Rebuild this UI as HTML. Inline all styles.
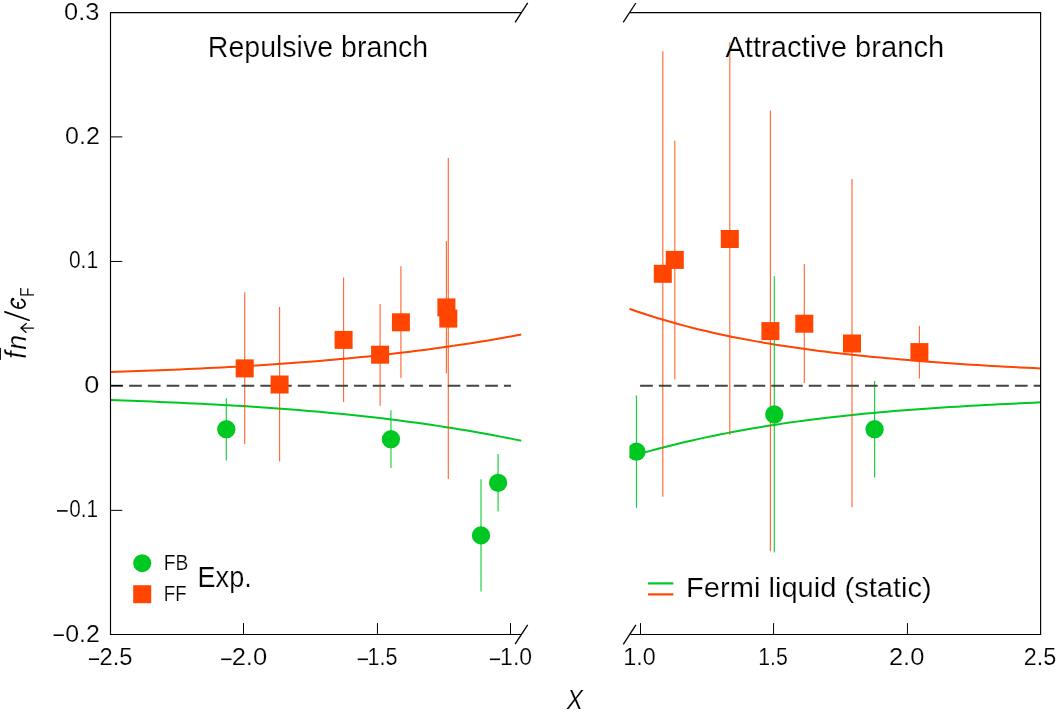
<!DOCTYPE html>
<html><head><meta charset="utf-8"><style>
html,body{margin:0;padding:0;background:#fff;}
body{width:1057px;height:716px;overflow:hidden;}
svg{display:block;}
</style></head><body>
<svg width="1057" height="716" viewBox="0 0 1057 716">
<defs>
<clipPath id="cl"><rect x="110.5" y="0" width="411" height="716"/></clipPath>
<clipPath id="cr"><rect x="629.4" y="0" width="411.2" height="716"/></clipPath>
</defs>
<g clip-path="url(#cl)">
<path d="M110.50,372.09 L117.47,371.85 L124.43,371.60 L131.40,371.35 L138.36,371.09 L145.33,370.83 L152.30,370.56 L159.26,370.28 L166.23,369.99 L173.19,369.70 L180.16,369.40 L187.13,369.09 L194.09,368.77 L201.06,368.45 L208.03,368.11 L214.99,367.76 L221.96,367.40 L228.92,367.03 L235.89,366.64 L242.86,366.25 L249.82,365.84 L256.79,365.41 L263.75,364.97 L270.72,364.52 L277.69,364.05 L284.65,363.57 L291.62,363.07 L298.58,362.56 L305.55,362.02 L312.52,361.47 L319.48,360.91 L326.45,360.32 L333.42,359.72 L340.38,359.09 L347.35,358.45 L354.31,357.78 L361.28,357.10 L368.25,356.39 L375.21,355.66 L382.18,354.91 L389.14,354.14 L396.11,353.34 L403.08,352.52 L410.04,351.67 L417.01,350.80 L423.97,349.91 L430.94,348.99 L437.91,348.04 L444.87,347.07 L451.84,346.07 L458.81,345.04 L465.77,343.99 L472.74,342.90 L479.70,341.79 L486.67,340.65 L493.64,339.47 L500.60,338.27 L507.57,337.04 L514.53,335.77 L521.50,334.47" fill="none" stroke="#ff4500" stroke-width="2"/>
<path d="M110.50,400.06 L117.47,400.30 L124.43,400.55 L131.40,400.81 L138.36,401.07 L145.33,401.34 L152.30,401.62 L159.26,401.90 L166.23,402.19 L173.19,402.50 L180.16,402.81 L187.13,403.13 L194.09,403.46 L201.06,403.80 L208.03,404.16 L214.99,404.52 L221.96,404.90 L228.92,405.30 L235.89,405.70 L242.86,406.12 L249.82,406.56 L256.79,407.01 L263.75,407.47 L270.72,407.96 L277.69,408.46 L284.65,408.98 L291.62,409.51 L298.58,410.07 L305.55,410.64 L312.52,411.23 L319.48,411.84 L326.45,412.48 L333.42,413.13 L340.38,413.81 L347.35,414.51 L354.31,415.23 L361.28,415.98 L368.25,416.75 L375.21,417.54 L382.18,418.36 L389.14,419.21 L396.11,420.08 L403.08,420.97 L410.04,421.90 L417.01,422.85 L423.97,423.83 L430.94,424.84 L437.91,425.88 L444.87,426.95 L451.84,428.05 L458.81,429.18 L465.77,430.34 L472.74,431.53 L479.70,432.76 L486.67,434.02 L493.64,435.31 L500.60,436.64 L507.57,438.00 L514.53,439.39 L521.50,440.83" fill="none" stroke="#00c823" stroke-width="2"/>
<line x1="244.7" y1="292.2" x2="244.7" y2="444.1" stroke="#ff4500" stroke-width="1.15" stroke-opacity="0.8"/>
<line x1="279.6" y1="307" x2="279.6" y2="461.5" stroke="#ff4500" stroke-width="1.15" stroke-opacity="0.8"/>
<line x1="343.6" y1="277.4" x2="343.6" y2="402.0" stroke="#ff4500" stroke-width="1.15" stroke-opacity="0.8"/>
<line x1="380.1" y1="304.1" x2="380.1" y2="405.8" stroke="#ff4500" stroke-width="1.15" stroke-opacity="0.8"/>
<line x1="400.9" y1="266.3" x2="400.9" y2="378.1" stroke="#ff4500" stroke-width="1.15" stroke-opacity="0.8"/>
<line x1="446.4" y1="241" x2="446.4" y2="373.5" stroke="#ff4500" stroke-width="1.15" stroke-opacity="0.8"/>
<line x1="448.3" y1="158" x2="448.3" y2="479" stroke="#ff4500" stroke-width="1.15" stroke-opacity="0.8"/>
<line x1="226.3" y1="398.2" x2="226.3" y2="460.5" stroke="#00c823" stroke-width="1.15" stroke-opacity="0.9"/>
<line x1="390.95" y1="410.3" x2="390.95" y2="467.9" stroke="#00c823" stroke-width="1.15" stroke-opacity="0.9"/>
<line x1="481" y1="479.2" x2="481" y2="591.6" stroke="#00c823" stroke-width="1.15" stroke-opacity="0.9"/>
<line x1="498.1" y1="454.1" x2="498.1" y2="511.6" stroke="#00c823" stroke-width="1.15" stroke-opacity="0.9"/>
<line x1="110.4" y1="385.7" x2="511" y2="385.7" stroke="#444" stroke-width="2" stroke-dasharray="12.7 6.04"/>
<rect x="235.70" y="359.40" width="18.0" height="18.0" fill="#ff4500"/>
<rect x="270.60" y="375.50" width="18.0" height="18.0" fill="#ff4500"/>
<rect x="334.60" y="330.90" width="18.0" height="18.0" fill="#ff4500"/>
<rect x="371.10" y="345.70" width="18.0" height="18.0" fill="#ff4500"/>
<rect x="391.90" y="313.30" width="18.0" height="18.0" fill="#ff4500"/>
<rect x="437.40" y="298.40" width="18.0" height="18.0" fill="#ff4500"/>
<rect x="439.30" y="309.60" width="18.0" height="18.0" fill="#ff4500"/>
<circle cx="226.3" cy="429.2" r="9.15" fill="#00c823"/>
<circle cx="390.95" cy="439.2" r="9.15" fill="#00c823"/>
<circle cx="481" cy="535.4" r="9.15" fill="#00c823"/>
<circle cx="498.1" cy="482.8" r="9.15" fill="#00c823"/>
</g>
<g clip-path="url(#cr)">
<path d="M629.30,308.75 L636.27,311.19 L643.24,313.53 L650.21,315.79 L657.18,317.97 L664.15,320.07 L671.12,322.08 L678.09,324.03 L685.06,325.89 L692.03,327.69 L698.99,329.42 L705.96,331.09 L712.93,332.69 L719.90,334.24 L726.87,335.72 L733.84,337.15 L740.81,338.52 L747.78,339.85 L754.75,341.12 L761.72,342.35 L768.69,343.53 L775.66,344.66 L782.63,345.76 L789.60,346.81 L796.57,347.83 L803.54,348.81 L810.51,349.75 L817.48,350.66 L824.45,351.54 L831.42,352.39 L838.38,353.21 L845.35,354.00 L852.32,354.77 L859.29,355.51 L866.26,356.22 L873.23,356.91 L880.20,357.58 L887.17,358.23 L894.14,358.86 L901.11,359.47 L908.08,360.06 L915.05,360.64 L922.02,361.19 L928.99,361.73 L935.96,362.25 L942.93,362.76 L949.90,363.26 L956.87,363.74 L963.84,364.20 L970.81,364.65 L977.77,365.09 L984.74,365.51 L991.71,365.92 L998.68,366.32 L1005.65,366.70 L1012.62,367.07 L1019.59,367.43 L1026.56,367.77 L1033.53,368.10 L1040.50,368.42" fill="none" stroke="#ff4500" stroke-width="2"/>
<path d="M629.30,456.75 L636.27,454.73 L643.24,452.76 L650.21,450.84 L657.18,448.98 L664.15,447.17 L671.12,445.42 L678.09,443.71 L685.06,442.06 L692.03,440.45 L698.99,438.89 L705.96,437.38 L712.93,435.92 L719.90,434.50 L726.87,433.13 L733.84,431.80 L740.81,430.51 L747.78,429.26 L754.75,428.06 L761.72,426.89 L768.69,425.76 L775.66,424.67 L782.63,423.62 L789.60,422.61 L796.57,421.63 L803.54,420.68 L810.51,419.77 L817.48,418.89 L824.45,418.04 L831.42,417.22 L838.38,416.43 L845.35,415.68 L852.32,414.94 L859.29,414.24 L866.26,413.56 L873.23,412.91 L880.20,412.28 L887.17,411.67 L894.14,411.09 L901.11,410.52 L908.08,409.98 L915.05,409.46 L922.02,408.95 L928.99,408.47 L935.96,408.00 L942.93,407.54 L949.90,407.10 L956.87,406.68 L963.84,406.26 L970.81,405.86 L977.77,405.47 L984.74,405.09 L991.71,404.72 L998.68,404.36 L1005.65,404.01 L1012.62,403.66 L1019.59,403.32 L1026.56,402.98 L1033.53,402.65 L1040.50,402.32" fill="none" stroke="#00c823" stroke-width="2"/>
<line x1="662.8" y1="51.2" x2="662.8" y2="496.7" stroke="#ff4500" stroke-width="1.15" stroke-opacity="0.8"/>
<line x1="674.8" y1="140.7" x2="674.8" y2="379.5" stroke="#ff4500" stroke-width="1.15" stroke-opacity="0.8"/>
<line x1="729.8" y1="42.3" x2="729.8" y2="435" stroke="#ff4500" stroke-width="1.15" stroke-opacity="0.8"/>
<line x1="770.4" y1="110.4" x2="770.4" y2="551.3" stroke="#ff4500" stroke-width="1.15" stroke-opacity="0.8"/>
<line x1="804.3" y1="263.9" x2="804.3" y2="383" stroke="#ff4500" stroke-width="1.15" stroke-opacity="0.8"/>
<line x1="852" y1="179" x2="852" y2="507.2" stroke="#ff4500" stroke-width="1.15" stroke-opacity="0.8"/>
<line x1="919.4" y1="326" x2="919.4" y2="378.4" stroke="#ff4500" stroke-width="1.15" stroke-opacity="0.8"/>
<line x1="636.45" y1="395.4" x2="636.45" y2="507.7" stroke="#00c823" stroke-width="1.15" stroke-opacity="0.9"/>
<line x1="774.3" y1="276.2" x2="774.3" y2="552.6" stroke="#00c823" stroke-width="1.15" stroke-opacity="0.9"/>
<line x1="874.6" y1="380.9" x2="874.6" y2="477.6" stroke="#00c823" stroke-width="1.15" stroke-opacity="0.9"/>
<line x1="640.1" y1="385.7" x2="1040.5" y2="385.7" stroke="#444" stroke-width="2" stroke-dasharray="12.7 6.04"/>
<rect x="653.80" y="264.80" width="18.0" height="18.0" fill="#ff4500"/>
<rect x="665.80" y="250.90" width="18.0" height="18.0" fill="#ff4500"/>
<rect x="720.80" y="230.00" width="18.0" height="18.0" fill="#ff4500"/>
<rect x="761.40" y="322.10" width="18.0" height="18.0" fill="#ff4500"/>
<rect x="795.30" y="314.70" width="18.0" height="18.0" fill="#ff4500"/>
<rect x="843.00" y="334.50" width="18.0" height="18.0" fill="#ff4500"/>
<rect x="910.40" y="343.10" width="18.0" height="18.0" fill="#ff4500"/>
<circle cx="636.45" cy="451.7" r="9.15" fill="#00c823"/>
<circle cx="774.3" cy="414.5" r="9.15" fill="#00c823"/>
<circle cx="874.6" cy="429.2" r="9.15" fill="#00c823"/>
</g>
<g stroke="#000" stroke-width="1.15" fill="none">
<path d="M521.4,12.6 H110.5 V634.45 H521.4"/>
<path d="M630.2,12.6 H1040.6 V634.45 H630.2"/>
</g>
<g stroke="#000" stroke-width="1.0" fill="none">
<path d="M110.5,136.9 H122.3 M110.5,261.45 H122.3 M110.5,385.7 H122.3 M110.5,510.35 H122.3"/>
<path d="M243.5,634.45 V623.1 M377.45,634.45 V623.1 M510.5,634.45 V623.1 M640.5,634.45 V623.1 M773.55,634.45 V623.1 M907.45,634.45 V623.1"/>
</g>
<line x1="515.10" y1="22.30" x2="527.70" y2="2.90" stroke="#000" stroke-width="1.3"/><line x1="515.10" y1="644.20" x2="527.70" y2="624.80" stroke="#000" stroke-width="1.3"/><line x1="623.20" y1="22.40" x2="635.80" y2="3.00" stroke="#000" stroke-width="1.3"/><line x1="623.30" y1="644.30" x2="635.90" y2="624.90" stroke="#000" stroke-width="1.3"/>
<g font-family='"Liberation Sans", sans-serif' fill="#000" opacity="0.999" stroke="#fff" stroke-width="0.2">
<text transform="matrix(1.0829 0 0 1.0060 64.02 19.50)" font-size="23.5">0.3</text>
<text transform="matrix(1.0656 0 0 1.0060 65.03 143.90)" font-size="23.5">0.2</text>
<text transform="matrix(0.8951 0 0 1.0060 68.90 268.30)" font-size="23.5">0.1</text>
<text transform="matrix(1.1556 0 0 1.0060 84.24 392.70)" font-size="23.5">0</text>
<text transform="matrix(0.8820 0 0 1.0060 69.32 517.10)" font-size="23.5">0.1</text>
<text transform="matrix(1.0590 0 0 1.0060 65.24 641.50)" font-size="23.5">0.2</text>
<text transform="matrix(1.0098 0 0 1.0090 99.44 665.45)" font-size="23.5">2.5</text>
<text transform="matrix(1.0885 0 0 1.0090 231.64 665.45)" font-size="23.5">2.0</text>
<text transform="matrix(0.9200 0 0 1.0242 367.59 665.44)" font-size="23.5">1.5</text>
<text transform="matrix(0.9800 0 0 1.0090 500.09 665.45)" font-size="23.5">1.0</text>
<text transform="matrix(0.9933 0 0 1.0090 623.36 665.45)" font-size="23.5">1.0</text>
<text transform="matrix(0.9033 0 0 1.0242 758.22 665.44)" font-size="23.5">1.5</text>
<text transform="matrix(1.0852 0 0 1.0090 888.94 665.45)" font-size="23.5">2.0</text>
<text transform="matrix(0.9967 0 0 1.0090 1023.85 665.45)" font-size="23.5">2.5</text>
<text transform="matrix(1.0569 0 0 1.0595 207.82 57.00)" font-size="27">Repulsive branch</text>
<text transform="matrix(1.0809 0 0 1.0595 725.40 56.90)" font-size="27">Attractive branch</text>
<text transform="matrix(1.0030 0 0 1.0595 197.54 586.70)" font-size="27">Exp.</text>
<text transform="matrix(0.9582 0 0 1.0982 163.82 570.00)" font-size="20">FB</text>
<text transform="matrix(0.9333 0 0 1.0982 163.87 600.80)" font-size="20">FF</text>
<text transform="matrix(1.0777 0 0 1.0432 686.08 596.60)" font-size="27">Fermi liquid (static)</text>
<text transform="matrix(0.8935 0 0 1.0541 566.75 709.10)" font-size="27" font-style="italic">X</text>
<text transform="translate(25.50 358.78) scale(1.0500 0.9778) rotate(-90)" font-size="27.5" font-style="italic">f</text>
<text transform="translate(25.50 349.68) scale(0.9763 0.9630) rotate(-90)" font-size="27.5" font-style="italic">n</text>
<text transform="translate(33.90 296.95) scale(1.0615 0.8324) rotate(-90)" font-size="19">F</text>
</g>
<g fill="#000"><rect x="57.0" y="510.10" width="10.60" height="1.6"/>
<rect x="53.6" y="634.40" width="10.20" height="1.6"/>
<rect x="88.9" y="658.40" width="10.20" height="1.6"/>
<rect x="221.2" y="658.50" width="10.30" height="1.6"/>
<rect x="357.7" y="658.50" width="10.20" height="1.6"/>
<rect x="489.9" y="658.50" width="10.20" height="1.6"/></g>
<circle cx="142.2" cy="563.2" r="9" fill="#00c823"/>
<rect x="133.2" y="585.2" width="18" height="18" fill="#ff4500"/>
<line x1="648" y1="583.4" x2="673.3" y2="583.4" stroke="#00c823" stroke-width="2.2"/>
<line x1="648" y1="594.4" x2="673.3" y2="594.4" stroke="#ff4500" stroke-width="2.2"/>
<g fill="none" stroke="#000">
<rect x="-0.5" y="347.9" width="1.4" height="12" fill="#000" stroke="none"/>
<line x1="4.9" y1="311.9" x2="29.1" y2="320.2" stroke-width="1.7" stroke-linecap="round"/>
<path d="M33.9,328.1 H21.0 M26.6,323.2 L21.0,328.1 L26.4,332.8" stroke-width="1.3"/>
<path d="M12.6,299.2 C10.9,300.6 11.0,303.6 13.2,305.6 C15.2,307.5 18.5,308.5 21.2,307.9 C24.0,307.2 25.3,305.0 24.9,303.0 C24.5,301.2 23.2,300.0 21.6,299.4" stroke-width="1.8" stroke-linecap="round"/>
<path d="M18.0,302.0 V307.6" stroke-width="1.7"/>
<circle cx="12.9" cy="299.3" r="1.45" fill="#000" stroke="none"/>
</g>
</svg>
</body></html>
